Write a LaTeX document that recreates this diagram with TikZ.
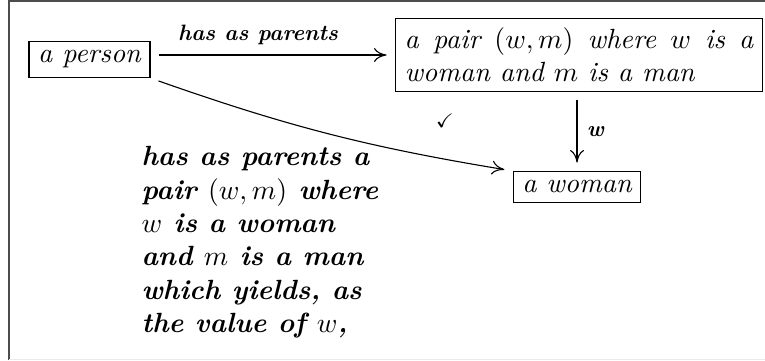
\documentclass[tikz,border=0pt]{standalone}
\usepackage{amsmath,amssymb}
\usetikzlibrary{arrows.meta}

\tikzstyle{concept} = [
rectangle,
draw=black,
font=\itshape
]
\tikzstyle{rel} = [
font=\footnotesize\bfseries\itshape
]
\tikzstyle{arrow} = [
-{Computer Modern Rightarrow[length=4.5pt,width=5pt]},
shorten <=3pt,
shorten >=3pt
]

\begin{document}
\begin{tikzpicture}[
x=0.36pt,
y=-0.36pt
]
\useasboundingbox (0,0) rectangle (765,360);

% Frame
\draw [gray!60!black, line width=0.7pt] (9,360) -- (9,0.8) -- (765,0.8);
\draw [black!8] (9,359.5) -- (765,359.5);

% Nodes
\node (person) [concept] at (89.5,59.5)
{a person};

\node (pair) [concept, align=justify, text width=125.5pt] at (579,55)
{a pair $(w,m)$ where $w$ is a woman and $m$ is a man};

\node (woman) [concept] at (577,187)
{a woman};

\node (check) at (445,121)
{\scriptsize$\checkmark$};

\node (gloss) [font=\bfseries\itshape, align=left, anchor=north west, inner sep=0pt] at (141,146)
{has as parents a\\ pair $(w,m)$ where\\ $w$ is a woman\\ and $m$ is a man\\ which yields, as\\ the value of $w$,};

% Arrows
\draw [arrow] (person.east |- pair) -- node[rel, above, pos=0.44] {has as parents} (pair.west);
\draw [arrow] (pair.south -| woman) -- node[rel, right] {w} (woman);
\draw [arrow] (person.south east) to[bend right=5] (woman.north west);

\end{tikzpicture}
\end{document}
